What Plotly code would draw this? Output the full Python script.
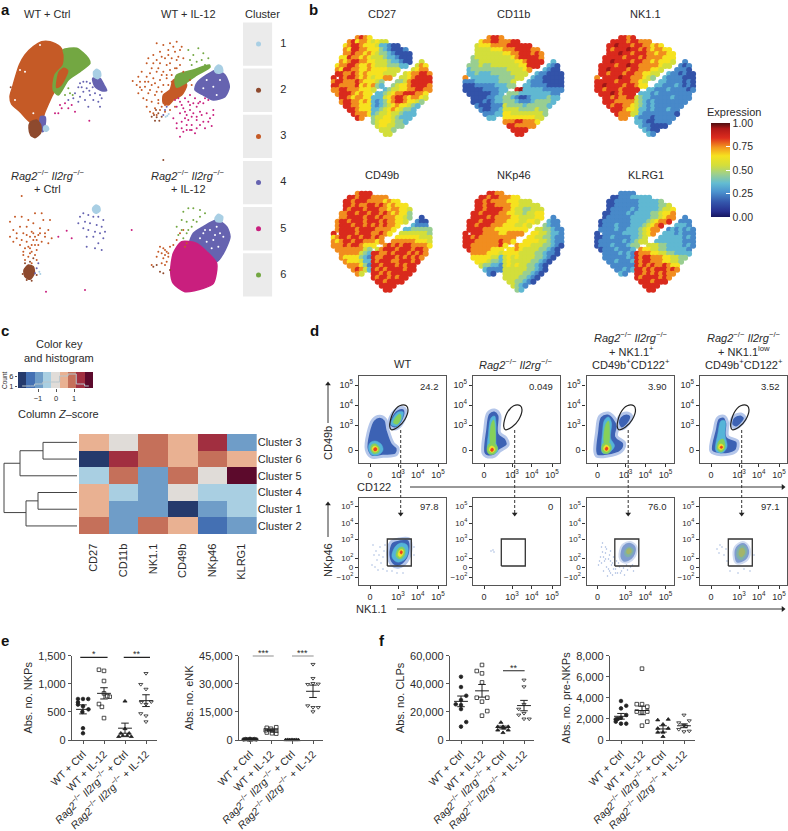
"""
plot.py - multi-panel NK cell figure (tSNE maps, clustering heatmap, flow plots, cell counts).
"""
import plotly.graph_objects as go

W, H = 788, 831
FONT = "Liberation Sans"
INK = "#2b2b2b"
RAG = "<i>Rag2</i><sup>−/−</sup> <i>Il2rg</i><sup>−/−</sup>"

# panel a: cluster colours and tSNE data, in map units
CLUSTER_IDS = [1, 2, 3, 4, 5, 6]
CLUSTER_COLORS = {0: "#ffffff", 1: "#a9cfe4", 2: "#8e4a2e", 3: "#c55a26", 4: "#6663b0", 5: "#c91f7e", 6: "#73a742"}

# filled regions of the maps: (cluster, outline)
A_REGIONS = [
    (3, [(125,125),(150,125),(180,140),(193,165),(190,195),(170,225),(165,270),(155,290),(135,335),(125,360),(90,365),(60,335),(35,312),(30,290),(38,260),(58,195),(75,165),(100,140)]),
    (6, [(190,150),(230,145),(265,175),(270,190),(240,215),(205,240),(175,285),(160,270),(165,225),(190,195),(193,165)]),
    (3, [(178,215),(192,205),(203,212),(196,232),(180,258),(170,262)]),
    (4, [(122,350),(135,350),(135,375),(128,395),(120,385)]),
    (2, [(90,368),(110,360),(122,375),(122,398),(105,413),(92,405),(87,385)]),
    (1, [(133,378),(142,378),(146,388),(138,394),(131,390)]),
    (4, [(278,235),(300,235),(312,255),(320,272),(305,272),(285,260)]),
    (1, [(281,215),(290,208),(300,214),(302,228),(292,236),(282,230)]),
    (3, [(520,240),(545,235),(560,255),(545,285),(520,300),(505,315),(490,310),(490,285),(510,270)]),
    (4, [(590,250),(620,225),(650,210),(675,225),(688,260),(675,290),(640,300),(610,285),(585,270)]),
    (1, [(645,205),(655,195),(665,200),(668,215),(655,220),(645,215)]),
    (6, [(530,225),(580,210),(628,195),(630,202),(590,225),(555,250),(530,262),(525,245)]),
    (1, [(278,625),(288,615),(298,620),(300,632),(290,640),(280,635)]),
    (4, [(580,700),(610,680),(650,660),(680,680),(690,710),(670,760),(650,785),(620,755),(590,730),(570,725)]),
    (5, [(520,760),(545,725),(590,730),(620,755),(650,790),(640,850),(610,865),(555,875),(520,850),(512,815)]),
    (1, [(645,655),(655,643),(668,650),(665,665),(650,665)]),
    (2, [(72,810),(85,795),(100,800),(103,820),(90,838),(75,830)]),
]

# sparse cells of the maps: cluster -> points
A_DOTS = {
    1: [(502,347),(497,350),(506,342),(118,815),(121,822)],
    2: [(32,262),(462,345),(470,352),(475,340),(485,350),(465,362),(455,350),(478,362),(468,330),
        (490,480),(510,810),(480,815),(490,820),(470,795),(460,800),(75,790),(90,785),(100,775),
        (80,840),(95,842),(110,825),(68,822)],
    3: [(470,130),(490,135),(510,130),(530,125),(545,140),(480,155),(505,150),(525,155),(540,150),(495,175),
        (515,175),(480,190),(500,195),(530,180),(455,205),(470,215),(490,215),(510,210),(440,190),(425,215),
        (440,230),(460,235),(480,240),(500,235),(398,243),(420,245),(435,260),(455,255),(475,262),(425,270),
        (445,280),(465,285),(485,275),(430,295),(455,305),(475,300),(440,320),(465,325),(485,320),(460,340),
        (500,290),(515,225),(530,205),(550,215),(575,255),(570,240),(525,320),(510,330),(495,335),(445,175),
        (460,165),(470,180),(485,170),(505,165),(520,140),(535,170),(550,175),(460,190),(475,205),(500,225),
        (450,220),(435,245),(415,230),(410,255),(420,262),(445,245),(465,250),(490,255),(505,255),(440,300),
        (415,280),(450,270),(470,275),(490,300),(475,310),(450,335),(470,345),(480,330),(495,315),(505,300),
        (525,205),(540,195),(510,190),(485,225),(515,245),
        (30,665),(45,650),(65,650),(85,660),(105,640),(125,640),(130,660),(150,660),(40,690),(60,680),
        (80,680),(100,670),(120,685),(145,690),(30,710),(50,715),(70,700),(95,695),(115,705),(135,710),
        (155,715),(60,735),(80,725),(100,720),(125,725),(145,730),(70,755),(90,745),(110,750),(85,770),
        (105,765),(65,588),(95,790),(110,780),(70,765),(75,780),(90,760),(95,755),(85,740),(95,735),
        (105,735),(115,735),(75,745),(110,720),(135,700),(50,700),(40,725),(65,720),(80,705),(120,700),
        (100,700),(105,710),(90,710),
        (480,740),(495,750),(505,760),(490,775),(500,785),(470,770),(455,795),(510,740),(520,735),(530,720),
        (540,700),(550,690),(555,740),(560,730),(475,755),(485,760),(490,745),(500,755),(495,765),(505,770),
        (485,790),(495,795)],
    4: [(240,250),(250,245),(235,262),(245,262),(260,265),(225,280),(250,275),(270,285),(285,280),(300,285),
        (255,300),(240,290),(280,300),(305,295),(265,320),(295,305),(220,295),(205,300),(235,305),(300,320),
        (285,240),(295,245),(270,250),(278,262),(316,270),(260,245),(268,272),
        (490,345),(495,330),(500,320),
        (240,650),(250,640),(265,645),(280,650),(295,650),(310,660),(235,670),(255,665),(270,670),(290,675),
        (305,680),(315,695),(250,685),(265,690),(285,695),(300,700),(260,710),(280,710),(310,715),(295,730),
        (260,740),(285,745),(305,750),(115,790),(110,805),(105,820)],
    5: [(175,340),(165,340),(185,325),(205,325),(215,315),(195,310),(225,335),(268,362),(180,315),
        (525,300),(540,305),(555,295),(570,285),(585,295),(600,305),(530,320),(550,325),(570,315),(590,320),
        (610,310),(625,300),(540,340),(560,345),(580,340),(600,335),(620,340),(640,330),(520,355),(545,365),
        (565,360),(575,375),(590,360),(610,365),(630,355),(530,385),(550,395),(570,390),(585,400),(615,385),
        (540,410),(560,375),(605,345),(635,378),(535,295),(545,315),(565,305),(580,310),(595,310),(615,295),
        (555,335),(570,330),(590,350),(575,350),(555,355),(575,390),(560,390),(590,385),(545,385),(530,370),
        (600,375),(625,365),(640,345),
        (175,710),(215,715),(138,875),(255,870),(395,690),(200,692)],
    6: [(210,280),(218,285),(205,265),(195,285),
        (565,150),(580,165),(595,145),(610,160),(625,175),(590,185),(570,180),(605,180),(615,195),(575,195),
        (550,635),(565,625),(580,625),(545,660),(560,665),(580,660),(600,650),(615,640),(600,630),(530,680),
        (545,690),(560,700),(575,680),(590,665),(535,705),(550,715),(565,690)],
    0: [(60,210),(75,215),(120,135),(45,300),(100,340),
        (620,240),(640,260),(660,240),(610,265),(650,285),
        (610,700),(630,690),(650,680),(600,715),(660,700),(640,720),(620,725),(670,710),(655,740),(635,745),
        (615,690),(645,705)],
}

# panel b: expression per map cell, one digit per tenth of the scale, blank where no cells
EXPR_CD27 = [
    "      7876",
    "    7867765655",
    "   67887666533211",
    "   7688776664321112",
    "   77877676544321111",
    "  668776765554332111",
    "  767887766555433211  5",
    " 677887667655544433  576",
    " 7688776676666555   5677",
    " 887787676666555  5677887",
    "8 8788767656677  55678888",
    "7887778766654   445788888",
    "8877778676743  4566788887",
    "77887776665  345566778877",
    " 788876766 3345677888776",
    "  8876776633356788767765",
    "  788776763234678876654",
    "   8877666323456766543",
    "    88766633456765443",
    "     8777634556554333",
    "      87  4556654333",
    "          456665443",
    "           5665544",
    "            5554",
    "             55",
]
EXPR_CD11B = [
    "      7887",
    "    6778877788",
    "   56667777888888",
    "   5555666777888877",
    "   55555556677888787",
    "  455555555567888887",
    "  445555555556678888  3",
    " 444544555555566888  321",
    " 3444444444555567   3211",
    " 334333444445555  3221111",
    "7 3333333444455  32211111",
    "2223333334445   322211111",
    "1112222233344  3322221111",
    "11111222233  893333322222",
    " 111111223 4443333333322",
    "  1111223344321123333433",
    "  111212334443222344443",
    "   2111222544443444443",
    "    21122355554444544",
    "     2223366555555554",
    "      33  6666666655",
    "          777887776",
    "           8877777",
    "            8888",
    "             88",
]
EXPR_NK11 = [
    "      8878",
    "    8888788777",
    "   88988878877676",
    "   8788898878767766",
    "   88898878887767766",
    "  888887888787777666",
    "  889888878877676665  2",
    " 888878898877777655  212",
    " 8898888788777665   2221",
    " 887888788776655  3221211",
    "7 8888988777654  32222111",
    "8888878887765   332222121",
    "8898888788766  3322232121",
    "88788878888  332223222212",
    " 888987888 3332322222222",
    "  8878778854332222232222",
    "  888777775432322222222",
    "   8788776543232222222",
    "    88876653323222322",
    "     8777553222222221",
    "      77  3222122222",
    "          332112222",
    "           3221111",
    "            3211",
    "             32",
]
EXPR_CD49B = [
    "      7888",
    "    8878887777",
    "   88788877776766",
    "   8878778878767666",
    "   87888788877677665",
    "  778878878878767664",
    "  778888788787776654  1",
    " 788788878887877665  211",
    " 7888788787878776   3222",
    " 788887888877776  3344444",
    "8 8888788877876  55555554",
    "6788788788787   666666555",
    "7678878877767  7777776665",
    "77787887666  787878877776",
    " 777777754 5788878887887",
    "  7777754388778788878787",
    "  766664328778887878787",
    "   7666533878887788878",
    "    77764288788878788",
    "     7875387878888788",
    "      75  8878788888",
    "          878878788",
    "           8878888",
    "            8888",
    "             88",
]
EXPR_NKP46 = [
    "      8877",
    "    8878877766",
    "   88787777666555",
    "   8878877776655555",
    "   88788887765544555",
    "  887888877665545566",
    "  888878777766555566  2",
    " 888788877766655665  322",
    " 8878887776665565   4322",
    " 888877766666666  5544322",
    "8 8887777667777  66554332",
    "8878777777777   665544322",
    "8887777778776  6666554322",
    "88777777786  766655544321",
    " 877777666 6676555544321",
    "  7777666566665555443221",
    "  666665535656555544321",
    "   6665443565555544321",
    "    54433256565544321",
    "     3222255555544321",
    "      21  5555544321",
    "          555544321",
    "           5544321",
    "            5432",
    "             43",
]
EXPR_KLRG1 = [
    "      2222",
    "    1122233333",
    "   11222222333334",
    "   1122222233333445",
    "   12222232333334556",
    "  112222323333445667",
    "  122222233333445677  2",
    " 122222223333456778  222",
    " 1222322233345678   3332",
    " 222232233345677  2323232",
    "1 2222233334567  33323222",
    "1122322223345   333333232",
    "1222222323455  3333333222",
    "12223222344  555443333232",
    " 122232223 7665544333332",
    "  2222323287776655443333",
    "  222222328788777665544",
    "   2232223878877766554",
    "    22222287878778766",
    "     2232388787888787",
    "      32  8878787877",
    "          878888787",
    "           8887888",
    "            8888",
    "             88",
]
EXPR_PANELS = [
    ("CD27", EXPR_CD27), ("CD11b", EXPR_CD11B), ("NK1.1", EXPR_NK11),
    ("CD49b", EXPR_CD49B), ("NKp46", EXPR_NKP46), ("KLRG1", EXPR_KLRG1),
]
EXPR_SCALE = [
    [0.00, "#16165f"], [0.06, "#27308f"], [0.16, "#3457ac"], [0.27, "#4c94cf"], [0.36, "#63bcd2"],
    [0.46, "#9fd08a"], [0.55, "#d3de3b"], [0.65, "#f6e21f"], [0.74, "#f3981f"], [0.84, "#dd2c1e"],
    [0.94, "#b01818"], [1.00, "#4e0e10"],
]
EXPR_TICKS = [0, 0.25, 0.5, 0.75, 1]
EXPR_TICK_TEXT = ["0.00", "0.25", "0.50", "0.75", "1.00"]

# panel c: clustered z-score heatmap
C_MARKERS = ["CD27", "CD11b", "NK1.1", "CD49b", "NKp46", "KLRG1"]
C_CLUSTERS = ["Cluster 3", "Cluster 6", "Cluster 5", "Cluster 4", "Cluster 1", "Cluster 2"]
C_Z = [
    [1, 0, 2, 1, 3, -2],
    [-4, 3, 2, 1, 2, 1],
    [-1, 2, -2, 2, 0, 4],
    [1, -1, -2, 0, -1, -1],
    [1, -2, -2, -4, -2, -1],
    [2, -2, 2, 1, -3, -2],
]
C_LEVEL_COLORS = ["#253a6c", "#4470b3", "#6f9dc8", "#a9cfe2", "#e0dcd8", "#e9b192", "#c5705a", "#a12f40", "#5c0a2c"]
C_KEY_EDGES = [-2.11, -1.65, -1.19, -0.73, -0.27, 0.2, 0.66, 1.12, 1.58, 2.05]
C_KEY_BINS = [-1.88, -1.42, -0.96, -0.50, -0.03, 0.43, 0.89, 1.35, 1.82]
C_KEY_LEVELS = [-4, -3, -2, -1, 0, 1, 2, 3, 4]
C_KEY_COUNTS = [1, 1, 2, 3, 3, 6, 7, 2, 1]
# dendrogram: merge heights, rows counted from the top
DENDRO_H = [2, 36, 36, 2, None, 36, 59, 59, 2, None, 59, 75, 75, 53, None,
            2, 41, 41, 2, None, 41, 53, 53, 2]
DENDRO_R = [0, 0, 1, 1, None, 0.5, 0.5, 2, 2, None, 1.25, 1.25, 4.2, 4.2, None,
            3, 3, 4, 4, None, 3.5, 3.5, 5, 5]

# panel d: flow cytometry, axes in channels
FLOW_X_TICKS = [11, 39, 58.7, 79]
FLOW_X_TEXT = ["0", "10<sup>3</sup>", "10<sup>4</sup>", "10<sup>5</sup>"]
FLOW_Y1_TICKS = [13, 38, 58, 78]
FLOW_Y1_TEXT = ["0", "10<sup>3</sup>", "10<sup>4</sup>", "10<sup>5</sup>"]
FLOW_Y2_TICKS = [8, 18, 27, 46, 62, 79]
FLOW_Y2_TEXT = ["−10<sup>2</sup>", "0", "10<sup>2</sup>", "10<sup>3</sup>", "10<sup>4</sup>", "10<sup>5</sup>"]
FLOW_X_MINOR = [3, 5, 7, 9, 13, 15, 17, 19, 28, 33, 36, 48, 53, 56, 68, 73, 76]
FLOW_GATE_OVAL = [(30.7,36.7),(34,50),(40.7,57.3),(47.3,57.3),(49,53.3),(45.7,43.3),(39,36),(32.3,33.3),(30.7,36.7)]
FLOW_GATE_SQ_X = [28.3, 52.3, 52.3, 28.3, 28.3]
FLOW_GATE_SQ_Y = [19, 19, 46, 46, 19]
FLOW_COLORS = {"blue": "#3c62b4", "cyan": "#55b4d8", "green": "#86d05a", "yellow": "#f2e02c", "red": "#e8401f",
               "pale": "#7f9ccf", "sage": "#7fb0a8", "olive": "#a3b56a"}
FLOW_EDGES = {"blue": ("#b4c6ea", 3), "pale": ("#cfdaf0", 2)}
FLOW_TOP = [
    [("blue", [(7.3,13.3),(9,30),(14,43.3),(20.7,46.7),(26.7,43.3),(29,33.3),(34,20),(39,15),(37.3,8.3),(24,6.7),(12.3,6)]),
     ("blue", [(30,37),(31,45),(38,54),(45,55),(47,50),(42,38),(36,34)]),
     ("cyan", [(32,38.5),(34,45),(39,51),(44,51),(43,44),(38,37)]),
     ("green", [(34.5,40),(37,46),(41,49),(42,45),(38.5,39)]),
     ("cyan", [(9.5,14),(11,20),(16,22),(22,19),(24,13),(20,8.5),(13,8)]),
     ("green", [(11.5,14),(13,18.5),(17,19),(20.5,15),(19.5,10.5),(14.5,9.5)]),
     ("yellow", [(13,14),(15,17),(18,16),(19,13),(16,11)]),
     ("red", [(14.5,13.5),(16,15.5),(18,14.5),(17.5,12.5),(15.5,12)])],
    [("blue", [(10,10),(11.7,33),(15,50),(21.7,53),(26.7,48),(26.7,30),(33,25),(35,18),(26.7,12),(21.7,7),(13,6.7)]),
     ("cyan", [(15,12),(15.5,30),(18,45),(21.5,47),(23,40),(23,20),(25,12),(20,9)]),
     ("green", [(18,18),(18,38),(20.5,43),(22,35),(21.5,18)]),
     ("green", [(14,13),(16,19),(21,20),(24.5,15),(21,9),(16,9)]),
     ("yellow", [(16,13),(18,17),(21,16),(22,13),(19,10.5)]),
     ("red", [(17.5,13),(19,15),(20.5,14),(20,12),(18.5,11.5)])],
    [("blue", [(8.3,11.7),(10,30),(13.3,46.7),(21.7,50),(28,45),(31.7,36.7),(30,27),(38,20),(35,11.7),(20,6.7),(10,7)]),
     ("blue", [(31,40),(33.3,46.7),(40,50),(45,47.3),(42.7,40),(35,34)]),
     ("cyan", [(15,14),(16,30),(18,43),(22,46),(25,40),(24,25),(28,17),(22,10),(16,10)]),
     ("green", [(18,20),(19,38),(22,42),(23,35),(22,20)]),
     ("green", [(15,14),(17,20),(22,21),(25,15),(22,10),(17,10)]),
     ("yellow", [(17,14),(19,18),(22,17),(23,14),(20,11.5)]),
     ("red", [(18.5,14),(20,16),(21.5,15),(21,13),(19.5,12.5)])],
    [("blue", [(11,11.7),(14.3,33),(17.7,45),(24.3,46.7),(27.7,40),(27.7,26.7),(37.7,21.7),(36,11.7),(21,8.3)]),
     ("blue", [(31,38.3),(33,46),(41,49),(45.3,45),(42.7,40),(36,35)]),
     ("cyan", [(16,12),(18,30),(21,42),(25,42),(25,28),(27,16),(22,10)]),
     ("green", [(17,14),(19,22),(23,24),(25,15),(21,11)]),
     ("yellow", [(18.5,15),(20,19),(23,18),(23.5,15),(21,13)]),
     ("red", [(20,15.5),(21,17),(22.5,16.5),(22.5,15),(21,14.5)])],
]
FLOW_BOTTOM = [
    [("blue", [(29,30),(32,43),(40,46),(50,46),(52,36),(48,24),(40,18),(33,20)]),
     ("cyan", [(33,28),(36,38),(42,42),(48,40),(49,32),(45,25),(38,23)]),
     ("green", [(37,29),(39,36),(43,38),(46,35),(45,29),(41,26)]),
     ("yellow", [(39,30),(41,35),(44,35),(44,31),(41,28)]),
     ("red", [(41,32),(42,34.5),(43.5,33),(42.5,31)])],
    [],
    [("pale", [(33,28),(36,40),(44,43),(50,38),(48,28),(42,23),(36,23)]),
     ("sage", [(38,31),(40,37),(44,38),(47,35),(45,30),(41,28)]),
     ("olive", [(40,32),(41,36),(44,36),(45,33),(42,31)])],
    [("pale", [(34,26),(35,38),(43,43),(49,38),(49,28),(42,22),(36,22)]),
     ("sage", [(37,28),(38,37),(43,40),(47,35),(45,28),(41,25)]),
     ("olive", [(39,30),(40,36),(43,37),(45,33),(43,29),(41,28)])],
]
FLOW_BOTTOM_DOTS = [
    [(14,40),(15,30),(17,34),(18,25),(20,30),(21,38),(22,22),(24,28),(25,34),(13,20),(16,18),(19,15),(24,16),(28,14),
     (33,14),(38,12),(44,12),(55,30),(55,38),(26,40)],
    [(18,34),(20,35),(21,33)],
    [(12,20),(14,28),(15,38),(16,42),(17,14),(18,24),(19,32),(20,18),(21,9),(22,26),(23,14),(24,34),(25,20),(26,10),
     (27,28),(29,16),(30,24),(31,12),(33,18),(35,14),(38,10),(41,15),(44,18),(47,14),(16,33),(19,38),(24,24),(28,20),
     (13,24),(15,22),(17,28),(19,26),(20,36),(22,16),(23,30),(24,12),(26,22),(27,16),(29,12),(32,22),(34,12),(37,17),
     (40,20),(46,20)],
    [(17,36),(19,32),(20,40),(22,38),(24,30),(26,36),(27,24),(30,14),(38,12),(44,16),(50,14),(54,30)],
]
FLOW_TOP_PCT = ["24.2", "0.049", "3.90", "3.52"]
FLOW_BOTTOM_PCT = ["97.8", "0", "76.0", "97.1"]

# panels e, f: cell counts; offsets are the horizontal spread of each dot inside its group
GROUP_LABELS = ["WT + Ctrl", "WT + IL-12", RAG + " + Ctrl", RAG + " + IL-12"]
GROUP_SYMBOLS = ["circle", "square-open", "triangle-up", "triangle-down-open"]
NKP_POINTS = [
    [(-.24,730),(0,730),(.25,730),(-.24,670),(-.24,630),(0,600),(.26,545),(-.03,500),(0,210),(0,120)],
    [(-.24,1250),(0,1230),(0,1050),(0,830),(.16,780),(.27,770),(-.24,640),(-.1,590),(0,390)],
    [(0,690),(0,200),(-.2,120),(.2,120),(-.1,75),(.1,75),(-.3,60),(.3,60)],
    [(0,1185),(-.25,990),(0,905),(.25,680),(-.22,670),(0,635),(-.25,470),(0,430),(0,325)],
]
NKP_MEAN, NKP_SEM = [545, 830, 210, 700], [80, 100, 90, 105]
ENK_POINTS = [
    [(-.3,300),(-.2,500),(-.1,300),(0,600),(.1,300),(.2,500),(.3,300),(0,150)],
    [(-.2,6500),(0,6000),(.25,6800),(-.25,5200),(.05,5000),(.25,5000),(-.2,4000),(.05,3600),(.25,3400)],
    [(-.3,100),(-.2,150),(-.1,100),(0,150),(.1,100),(.2,150),(.3,100)],
    [(0,40400),(0,32900),(0,30200),(-.25,29700),(.25,29900),(-.25,18300),(0,17400),(.25,17400),(0,15100)],
]
ENK_MEAN, ENK_SEM = [350, 5300, 120, 26000], [80, 500, 30, 3300]
CLP_POINTS = [
    [(0,45000),(0,37700),(.25,31500),(-.25,25400),(0,28500),(0,24900),(0,22000),(.25,12800),(0,9500)],
    [(0,53400),(-.25,49100),(0,47400),(0,41000),(-.25,30100),(.25,30100),(0,27300),(.25,20600),(0,17300)],
    [(-.1,12500),(-.25,9500),(0,9500),(.25,9500),(.03,8400),(-.25,7000),(.25,7000),(0,5200)],
    [(0,42700),(0,37900),(0,25400),(-.25,22000),(0,19000),(-.25,17800),(0,15000),(.25,15000)],
]
CLP_MEAN, CLP_SEM = [27500, 35000, 8900, 24500], [3800, 4500, 1000, 3700]
PRE_POINTS = [
    [(0,3700),(.25,3250),(0,3000),(.25,2370),(-.25,1960),(0,2100),(-.25,1740),(0,1550),(.25,1550),(-.15,2000)],
    [(0,6770),(-.25,3400),(0,3400),(.25,3160),(-.25,2700),(0,2620),(.25,2700),(.25,1740),(0,1360)],
    [(-.25,1900),(.25,1960),(0,1490),(-.25,1100),(.25,1100),(-.25,730),(0,730),(0,320)],
    [(0,2370),(-.25,1640),(.25,1830),(0,1400),(-.25,1010),(0,790),(.25,850),(.1,1300)],
]
PRE_MEAN, PRE_SEM = [2250, 2800, 1050, 1350], [270, 400, 300, 180]
COUNT_PANELS = [
    dict(x0=72, x1=157, top=1500, ticks=[0, 500, 1000, 1500], text=["0", "500", "1,000", "1,500"], title="Abs. no. NKPs",
         pts=NKP_POINTS, mean=NKP_MEAN, sem=NKP_SEM,
         bars=[(-.13, 1.17, 1470, "*"), (1.94, 3.19, 1470, "**")]),
    dict(x0=239, x1=323, top=45000, ticks=[0, 15000, 30000, 45000], text=["0", "15,000", "30,000", "45,000"], title="Abs. no. eNK",
         pts=ENK_POINTS, mean=ENK_MEAN, sem=ENK_SEM,
         bars=[(.13, 1.13, 45000, "***"), (2, 3.03, 45000, "***")]),
    dict(x0=450, x1=534, top=60000, ticks=[0, 20000, 40000, 60000], text=["0", "20,000", "40,000", "60,000"], title="Abs. no. CLPs",
         pts=CLP_POINTS, mean=CLP_MEAN, sem=CLP_SEM,
         bars=[(2, 3.03, 49300, "**")]),
    dict(x0=610, x1=695, top=8000, ticks=[0, 2000, 4000, 6000, 8000], text=["0", "2,000", "4,000", "6,000", "8,000"], title="Abs. no. pre-NKPs",
         pts=PRE_POINTS, mean=PRE_MEAN, sem=PRE_SEM, bars=[]),
]

fig = go.Figure()
layout = {}
annotations = []
shapes = []
axis_count = 1


def px(x, y):
    return x / W, 1 - y / H


def add_axes(x0, x1, y0, y1, xcfg=None, ycfg=None):
    # an axes pair placed by its pixel box on the page
    global axis_count
    axis_count += 1
    n = axis_count
    base = dict(visible=False, fixedrange=True, showgrid=False, zeroline=False)
    layout[f"xaxis{n}"] = {**base, "domain": [x0 / W, x1 / W], "anchor": f"y{n}", **(xcfg or {})}
    layout[f"yaxis{n}"] = {**base, "domain": [1 - y1 / H, 1 - y0 / H], "anchor": f"x{n}", **(ycfg or {})}
    return dict(xaxis=f"x{n}", yaxis=f"y{n}")


def label(x, y, text, size=11, anchor="center", angle=0, bold=False, color=INK):
    xp, yp = px(x, y)
    annotations.append(dict(
        x=xp, y=yp, xref="paper", yref="paper", text=f"<b>{text}</b>" if bold else text, showarrow=False,
        xanchor=anchor, yanchor="middle", textangle=angle, font=dict(family=FONT, size=size, color=color),
    ))


def xs(pts):
    return [p[0] for p in pts]


def ys(pts):
    return [p[1] for p in pts]


def closed(pts):
    return pts + pts[:1]


# panel letters
for letter, x, y in [("a", 5, 9), ("b", 313, 9), ("c", 5, 331), ("d", 314, 331), ("e", 5, 640), ("f", 382, 640)]:
    label(x, y, letter, size=15, bold=True, color="#111")

# panel a
ax_a = add_axes(0, 240, 0, 300, dict(range=[0, 720]), dict(range=[900, 0]))
for cluster, outline in A_REGIONS:
    pts = closed(outline)
    fig.add_trace(go.Scatter(x=xs(pts), y=ys(pts), mode="lines", fill="toself", fillcolor=CLUSTER_COLORS[cluster],
                             line=dict(color=CLUSTER_COLORS[cluster], width=1.5, shape="spline", smoothing=0.7),
                             hoverinfo="skip", **ax_a))
for cluster, pts in A_DOTS.items():
    fig.add_trace(go.Scatter(x=xs(pts), y=ys(pts), mode="markers", marker=dict(color=CLUSTER_COLORS[cluster], size=2),
                             hoverinfo="skip", **ax_a))
label(47, 14, "WT + Ctrl")
label(188, 14, "WT + IL-12")
label(262, 14, "Cluster")
label(48, 175, RAG)
label(47, 189, "+ Ctrl")
label(188, 175, RAG)
label(188, 189, "+ IL-12")

ax_key = add_axes(243, 290, 21, 298, dict(range=[0, 1]), dict(range=[6.5, 0.5]))
for cid in CLUSTER_IDS:
    shapes.append(dict(type="rect", xref=ax_key["xaxis"], yref=ax_key["yaxis"], x0=0, x1=0.62, y0=cid - 0.47, y1=cid + 0.47,
                       fillcolor="#ebebeb", line_width=0, layer="below"))
fig.add_trace(go.Scatter(x=[0.33] * 6, y=CLUSTER_IDS, mode="markers",
                         marker=dict(size=5, color=[CLUSTER_COLORS[c] for c in CLUSTER_IDS]), hoverinfo="skip", **ax_key))
fig.add_trace(go.Scatter(x=[0.86] * 6, y=CLUSTER_IDS, mode="text", text=[str(c) for c in CLUSTER_IDS],
                         textfont=dict(family=FONT, size=11, color=INK), hoverinfo="skip", **ax_key))

# panel b: overlapping round cells give the mottled map look
cell = 4
for i, (name, rows) in enumerate(EXPR_PANELS):
    col, row = i % 3, i // 3
    x0 = 331.7 + col * 131.7
    y0 = 36 + row * 155.7
    ax = add_axes(x0, x0 + 25 * cell, y0, y0 + 25 * cell, dict(range=[-0.5, 24.5]), dict(range=[24.5, -0.5]))
    cx, cy, cz = [], [], []
    for r, text in enumerate(rows):
        for c, ch in enumerate(text):
            if ch != " ":
                cx.append(c)
                cy.append(r)
                cz.append((int(ch) + 0.5) / 10)
    fig.add_trace(go.Scatter(x=cx, y=cy, mode="markers", cliponaxis=False, hoverinfo="skip",
                             marker=dict(color=cz, coloraxis="coloraxis", size=6, line_width=0), **ax))
    label(x0 + 50.5, 14 + row * 161, name)
layout["coloraxis"] = dict(
    cmin=0, cmax=1, colorscale=EXPR_SCALE,
    colorbar=dict(x=711 / W, xanchor="left", y=1 - 217 / H, yanchor="bottom", len=94, lenmode="pixels", thickness=19,
                  thicknessmode="pixels", xpad=0, ypad=0, outlinewidth=0, tickvals=EXPR_TICKS, ticktext=EXPR_TICK_TEXT,
                  ticks="inside", ticklen=4, tickcolor="white", tickfont=dict(family=FONT, size=10.5, color=INK)),
)
label(734, 112, "Expression")

# panel c
level_scale = []
for i, c in enumerate(C_LEVEL_COLORS):
    level_scale += [[i / 9, c], [(i + 1) / 9, c]]
ax_heat = add_axes(79, 256.7, 434, 534.3,
                   dict(visible=True, range=[-0.5, 5.5], tickvals=list(range(6)), ticktext=C_MARKERS, tickangle=-90, ticks="outside",
                        ticklen=4, tickcolor="rgba(0,0,0,0)", showline=False, tickfont=dict(family=FONT, size=11, color=INK)),
                   dict(visible=True, range=[5.5, -0.5], side="right", tickvals=list(range(6)), ticktext=C_CLUSTERS, ticks="",
                        showline=False, tickfont=dict(family=FONT, size=11, color=INK)))
fig.add_trace(go.Heatmap(z=C_Z, zmin=-4.5, zmax=4.5, colorscale=level_scale, showscale=False, hoverinfo="skip", **ax_heat))
ax_den = add_axes(0, 79, 434, 534.3, dict(range=[79, 0]), dict(range=[5.5, -0.5]))
fig.add_trace(go.Scatter(x=DENDRO_H, y=DENDRO_R, mode="lines", line=dict(color="#444", width=1), hoverinfo="skip", **ax_den))

ax_ck = add_axes(18, 93, 372, 388,
                 dict(visible=True, range=[-2.11, 2.05], tickvals=[-1, 0, 1], ticktext=["−1", "0", "1"], ticks="outside", ticklen=3,
                      tickcolor="#555", showline=False, tickfont=dict(family=FONT, size=7.5, color=INK)),
                 dict(visible=True, range=[0, 8], tickvals=[1, 6], ticktext=["1", "6"], ticks="outside", ticklen=2, tickcolor="#555",
                      showline=False, tickfont=dict(family=FONT, size=7.5, color=INK)))
fig.add_trace(go.Heatmap(x=C_KEY_EDGES, y=[0, 8], z=[C_KEY_LEVELS], zmin=-4.5, zmax=4.5, colorscale=level_scale, showscale=False,
                         hoverinfo="skip", **ax_ck))
fig.add_trace(go.Scatter(x=C_KEY_BINS, y=C_KEY_COUNTS, mode="lines", line=dict(color="#b8c6cc", width=1, shape="hvh"),
                         hoverinfo="skip", **ax_ck))
label(59, 344, "Color key")
label(59, 358, "and histogram")
label(58, 414, "Column <i>Z</i>–score")
label(4, 380, "Count", size=6.5, angle=-90)

# panel d
FLOW_LEFT = [359, 473, 586.5, 700]
for i, left in enumerate(FLOW_LEFT):
    for top, y_ticks, y_text, blobs in [(376, FLOW_Y1_TICKS, FLOW_Y1_TEXT, FLOW_TOP[i]), (498, FLOW_Y2_TICKS, FLOW_Y2_TEXT, FLOW_BOTTOM[i])]:
        common = dict(visible=True, range=[0, 87], showline=True, mirror=True, linecolor="#555", linewidth=1.2, ticks="outside",
                      ticklen=3, tickcolor="#333", tickfont=dict(family=FONT, size=9 if top == 376 else 8, color=INK))
        ax = add_axes(left, left + 87, top, top + 87,
                      dict(common, tickvals=FLOW_X_TICKS, ticktext=FLOW_X_TEXT, tickfont=dict(family=FONT, size=9, color=INK)),
                      dict(common, tickvals=y_ticks, ticktext=y_text))
        # short unlabelled ticks between the decades
        fig.add_trace(go.Scatter(x=FLOW_X_MINOR, y=[-1.2] * len(FLOW_X_MINOR), mode="markers", cliponaxis=False,
                                 marker=dict(symbol="line-ns-open", size=2.5, line=dict(color="#333", width=0.8)),
                                 hoverinfo="skip", **ax))
        if top == 498:
            dots = FLOW_BOTTOM_DOTS[i]
            fig.add_trace(go.Scatter(x=xs(dots), y=ys(dots), mode="markers", marker=dict(size=1.5, color="#9fb4dc"),
                                     hoverinfo="skip", **ax))
        for tone, outline in blobs:
            pts = closed(outline)
            edge, edge_w = FLOW_EDGES.get(tone, (FLOW_COLORS[tone], 0.5))
            fig.add_trace(go.Scatter(x=xs(pts), y=ys(pts), mode="lines", fill="toself", fillcolor=FLOW_COLORS[tone],
                                     line=dict(color=edge, width=edge_w, shape="spline", smoothing=1), hoverinfo="skip", **ax))
        if top == 376:
            fig.add_trace(go.Scatter(x=xs(FLOW_GATE_OVAL), y=ys(FLOW_GATE_OVAL), mode="lines",
                                     line=dict(color="#222", width=1.2, shape="spline", smoothing=1), hoverinfo="skip", **ax))
        else:
            fig.add_trace(go.Scatter(x=FLOW_GATE_SQ_X, y=FLOW_GATE_SQ_Y, mode="lines", line=dict(color="#333", width=1.3),
                                     hoverinfo="skip", **ax))
    label(left + 82, 386, FLOW_TOP_PCT[i], size=9.5, anchor="right")
    label(left + 82, 506, FLOW_BOTTOM_PCT[i], size=9.5, anchor="right")

# arrows across the flow plots, on a page-wide axes counted in pixels
ax_page = add_axes(0, W, 0, H, dict(range=[0, W]), dict(range=[H, 0]))


def arrow(x0, y0, x1, y1, symbol, dash="solid"):
    fig.add_trace(go.Scatter(x=[x0, x1], y=[y0, y1], mode="lines", line=dict(color="#333", width=1, dash=dash),
                             hoverinfo="skip", **ax_page))
    fig.add_trace(go.Scatter(x=[x1], y=[y1], mode="markers", marker=dict(symbol=symbol, size=5, color="#222"),
                             hoverinfo="skip", **ax_page))


for left in FLOW_LEFT:
    arrow(left + 41.7, 430, left + 41.7, 514, "triangle-down", dash="3px,2px")
arrow(328, 423, 328, 384, "triangle-up")
arrow(328, 537, 328, 504, "triangle-up")
arrow(410, 487, 783, 487, "triangle-right")
arrow(397, 609, 783, 609, "triangle-right")

label(402, 364, "WT")
label(516, 364, RAG)
label(631, 337, RAG)
label(631, 351, "+ NK1.1<sup>+</sup>")
label(631, 364, "CD49b<sup>+</sup>CD122<sup>+</sup>")
label(744, 337, RAG)
label(744, 351, "+ NK1.1<sup>low</sup>")
label(744, 364, "CD49b<sup>+</sup>CD122<sup>+</sup>")
label(328, 443, "CD49b", angle=-90)
label(328, 560, "NKp46", angle=-90)
label(374, 487, "CD122")
label(371, 609, "NK1.1")

# panels e, f
for panel in COUNT_PANELS:
    x0 = panel["x0"]
    first = x0 + 11
    spread = 21
    top = panel["top"]
    axis_font = dict(family=FONT, size=11, color=INK)
    ax = add_axes(x0, panel["x1"], 655.7, 740,
                  dict(visible=True, range=[(x0 - first) / spread, (panel["x1"] - first) / spread], tickvals=[0, 1, 2, 3],
                       ticktext=GROUP_LABELS, tickangle=-45, ticks="outside", ticklen=3, showline=True, linecolor="#555", linewidth=1.2,
                       tickcolor="#555", tickfont=dict(family=FONT, size=10.5, color=INK)),
                  dict(visible=True, range=[0, top], tickvals=panel["ticks"], ticktext=panel["text"], ticks="outside", ticklen=3,
                       showline=True, linecolor="#555", linewidth=1.2, tickcolor="#555", tickfont=axis_font,
                       title=dict(text=panel["title"], font=axis_font, standoff=3)))
    for g, pts in enumerate(panel["pts"]):
        fig.add_trace(go.Scatter(x=[g + p[0] for p in pts], y=ys(pts), mode="markers", cliponaxis=False,
                                 marker=dict(symbol=GROUP_SYMBOLS[g], size=3.6, color="#222", line=dict(color="#222", width=0.8)),
                                 hoverinfo="skip", **ax))
        m, s = panel["mean"][g], panel["sem"][g]
        fig.add_trace(go.Scatter(
            x=[g - .33, g + .33, None, g, g, None, g - .18, g + .18, None, g - .18, g + .18],
            y=[m, m, None, m - s, m + s, None, m + s, m + s, None, m - s, m - s],
            mode="lines", cliponaxis=False, line=dict(color="#222", width=1), hoverinfo="skip", **ax))
    for b0, b1, level, stars in panel["bars"]:
        fig.add_trace(go.Scatter(x=[b0, b1], y=[level, level], mode="lines", cliponaxis=False, line=dict(color="#222", width=1.2),
                                 hoverinfo="skip", **ax))
        annotations.append(dict(x=(b0 + b1) / 2, y=level, xref=ax["xaxis"], yref=ax["yaxis"], text=stars, showarrow=False,
                                yanchor="bottom", yshift=-4, font=dict(family=FONT, size=9, color=INK)))

fig.update_layout(
    width=W, height=H, margin=dict(l=0, r=0, t=0, b=0, autoexpand=False), plot_bgcolor="rgba(0,0,0,0)", paper_bgcolor="white",
    showlegend=False, annotations=annotations, shapes=shapes, font=dict(family=FONT), **layout,
)
fig.write_html("out.html", config=dict(displayModeBar=False), post_script="document.body.style.margin='0';")
